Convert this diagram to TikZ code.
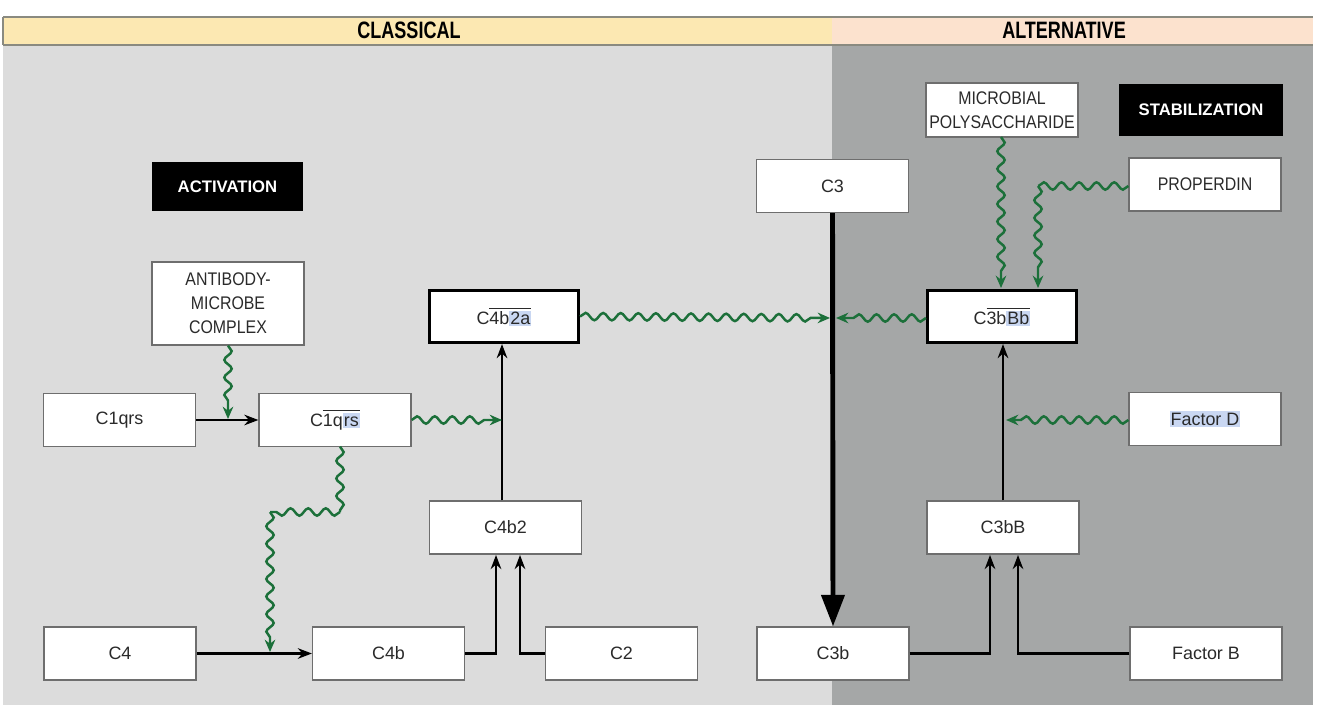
\documentclass[tikz,border=0pt]{standalone}
\usepackage{fontspec}
\usepackage{graphicx}
\setmainfont{Liberation Sans}
\newfontfamily\capsf{Liberation Sans}[FakeStretch=0.87]
\newfontfamily\headf{Liberation Sans}[FakeStretch=0.76]
\usetikzlibrary{arrows.meta,decorations.pathmorphing}
\definecolor{clgray}{HTML}{DCDCDC}
\definecolor{algray}{HTML}{A5A7A7}
\definecolor{hdyel}{HTML}{FCE8B2}
\definecolor{hdpch}{HTML}{FCE2CE}
\definecolor{hdline}{HTML}{8A8A80}
\definecolor{boxgray}{HTML}{6E6E6E}
\definecolor{txt}{HTML}{2A2A2A}
\definecolor{sgreen}{RGB}{28,112,58}
\definecolor{hlblue}{HTML}{C9D7F2}
\newcommand\hlt[1]{{\setlength{\fboxsep}{0.6pt}\colorbox{hlblue}{\vphantom{Bb}#1}}}
\begin{document}
\begin{tikzpicture}[x=0.02cm,y=-0.02cm,
  box/.style={draw=boxgray, line width=0.7pt, fill=white, minimum width=3.04cm,
    minimum height=1.06cm, inner sep=0pt, font=\fontsize{10.2}{13.5}\selectfont,
    text=txt, align=center},
  capbox/.style={box, font=\capsf\fontsize{10.4}{13.6}\selectfont},
  tbox/.style={box, draw=black, line width=1.8pt, minimum width=2.98cm, minimum height=1.04cm},
  lab/.style={fill=black, text=white, font=\bfseries\fontsize{9.5}{11}\selectfont,
    minimum width=3.02cm, minimum height=0.98cm, inner sep=0pt},
  head/.style={font=\headf\bfseries\fontsize{13.5}{14}\selectfont, text=black, inner sep=0pt},
  arr/.style={-{Stealth[length=8pt,width=6pt]}, line width=1.3pt, draw=black},
  bigarr/.style={-{Triangle[length=18pt,width=13pt]}, line width=2.8pt, draw=black},
  snk/.style={draw=sgreen, line width=1.4pt, decorate,
    decoration={snake, segment length=10pt, amplitude=2.1pt, post length=7pt},
    -{Stealth[length=7pt,width=6pt]}},
  snkn/.style={draw=sgreen, line width=1.4pt, decorate,
    decoration={snake, segment length=10pt, amplitude=2.1pt}}
]
\useasboundingbox (0,0) rectangle (1317,705);
\fill[white] (0,0) rectangle (1317,705);
% backgrounds
\fill[clgray] (3,45) rectangle (832,705);
\fill[algray] (832,45) rectangle (1313,705);
\fill[hdyel] (3,17) rectangle (832,45);
\fill[hdpch] (832,17) rectangle (1313,45);
\draw[hdline, line width=0.8pt] (3,17) -- (1313,17);
\draw[hdline, line width=0.8pt] (3,45) -- (1313,45);
\draw[hdline, line width=0.6pt] (3,17) -- (3,45);
\node[head] (hcl) at (409,30) {CLASSICAL};
\node[head] (hal) at (1064,30) {ALTERNATIVE};

% labels
\node[lab] (act) at (227.5,186.5) {ACTIVATION};
\node[lab, minimum width=3.28cm, minimum height=1.04cm] (stab) at (1201,110) {STABILIZATION};

% classical nodes
\node[capbox, minimum height=1.66cm] (ab) at (228,303.5) {ANTIBODY-\\MICROBE\\COMPLEX};
\node[box] (c1) at (119.5,420) {C1qrs};
\node[box] (c1b) at (335,420) {C$\overline{\mbox{1q\hlt{rs}}}$};
\node[tbox] (c4b2a) at (504,316.5) {C$\overline{\mbox{4b\hlt{2a}}}$};
\node[box] (c4b2) at (505.5,527.5) {C4b2};
\node[box] (c4) at (120,653.5) {C4};
\node[box] (c4b) at (388.5,653.5) {C4b};
\node[box] (c2) at (621.5,653.5) {C2};

% alternative nodes
\node[box] (c3) at (832.5,186) {C3};
\node[box] (c3b) at (833,653.5) {C3b};
\node[capbox, minimum height=1.08cm] (mp) at (1002,110) {MICROBIAL\\POLYSACCHARIDE};
\node[capbox] (prop) at (1205,184.5) {PROPERDIN};
\node[tbox] (c3bbb) at (1002,316.5) {C$\overline{\mbox{3b\hlt{Bb}}}$};
\node[box] (fd) at (1205,419) {\hlt{Factor D}};
\node[box] (c3bb) at (1003,527.5) {C3bB};
\node[box] (fb) at (1206,653.5) {Factor B};

% coordinates
\coordinate (abE) at (228,419);
\coordinate (j1) at (502,420);
\coordinate (s1) at (340,446.6);
\coordinate (k1) at (340,512);
\coordinate (k2) at (270,512);
\coordinate (k3) at (270,652);
\coordinate (h1) at (496,555);
\coordinate (h2) at (520,555);
\coordinate (cA) at (830,318);
\coordinate (cB) at (836,318);
\coordinate (n1) at (990,555);
\coordinate (n2) at (1018,555);
\coordinate (fdE) at (1006,420);
\coordinate (mpS) at (1001,137);
\coordinate (mpE) at (1001,288);
\coordinate (p1) at (1038,186);
\coordinate (pE) at (1038,288);

% black connectors
\draw[arr] (c1.east) -- (c1b.west);
\draw[arr] (c4.east) -- (c4b.west);
\draw[arr] (c4b.east) -| (h1);
\draw[arr] (c2.west) -| (h2);
\draw[arr] (c4b2.north -| j1) -- (c4b2a.south -| j1);
\draw[arr] (c3b.east) -| (n1);
\draw[arr] (fb.west) -| (n2);
\draw[arr] (c3bb.north) -- (c3bbb.south -| c3bb.north);
\draw[bigarr] (c3.south) -- (c3b.north);

% green wavy connectors
\draw[snk] (ab.south) -- (abE);
\draw[snk] (c1b.east) -- (j1);
\draw[snkn] (s1) -- (k1);
\draw[snkn] (k1) -- (k2);
\draw[snk] (k2) -- (k3);
\draw[snk] (c4b2a.east) -- (cA);
\draw[snk] (c3bbb.west |- cB) -- (cB);
\draw[snk] (fd.west |- fdE) -- (fdE);
\draw[snk] (mpS) -- (mpE);
\draw[snkn] (prop.west |- p1) -- (p1);
\draw[snk] (p1) -- (pE);
\end{tikzpicture}
\end{document}
